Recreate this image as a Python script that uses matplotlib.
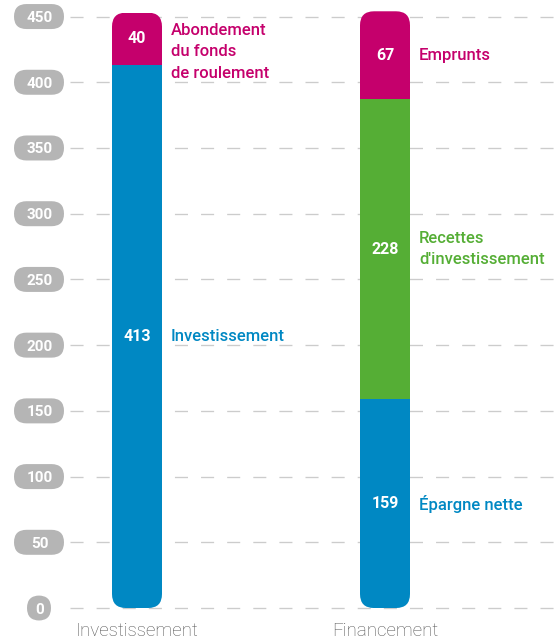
import numpy as np
import matplotlib.pyplot as plt
from matplotlib.patches import FancyBboxPatch
from matplotlib.transforms import IdentityTransform

plt.rcParams['font.family'] = ['Roboto', 'DejaVu Sans']
plt.rcParams['lines.scale_dashes'] = False

BLEU = "#0088C3"
MAGENTA = "#C5006C"
VERT = "#55AE35"

categories = ["Investissement", "Financement"]

# piles, du bas vers le haut
investissement_valeurs = [413, 40]
investissement_libelles = ["Investissement", "Abondement\ndu fonds\nde roulement"]
investissement_couleurs = [BLEU, MAGENTA]
investissement_va = ["center", "top"]

financement_valeurs = [159, 228, 67]
financement_libelles = ["Épargne nette", "Recettes\nd'investissement", "Emprunts"]
financement_couleurs = [BLEU, VERT, MAGENTA]
financement_va = ["center", "center", "center"]

graduations = [0, 50, 100, 150, 200, 250, 300, 350, 400, 450]
graduations_txt = ["0", "50", "100", "150", "200", "250", "300", "350", "400", "450"]

fig = plt.figure(figsize=(5.58, 6.44), dpi=100)
ax = fig.add_axes([70 / 558, (644 - 614.6) / 644, 488 / 558, 611.2 / 644])
ax.set_xlim(-67 / 248, 421 / 248)
ax.set_ylim(-5, 460)
for s in ax.spines.values():
    s.set_visible(False)

ax.set_axisbelow(True)
ax.grid(axis="y", color="#cccccc", linestyle=(0, (9.4, 9.4)), linewidth=0.95)
ax.grid(axis="x", visible=False)

# axe y : étiquettes dans des pastilles grises
ax.set_yticks(graduations, graduations_txt)
ax.tick_params(axis="y", length=0, pad=22, labelcolor="white", labelsize=11)
for t in ax.get_yticklabels():
    t.set_ha("center")
    t.set_fontweight("bold")

ax.set_xticks([0, 1], categories)
ax.tick_params(axis="x", length=0, pad=5, labelcolor="#555555", labelsize=13.5)
for t in ax.get_xticklabels():
    t.set_fontweight("light")

p0 = ax.transData.transform((0, 0))
p1 = ax.transData.transform((1, 1))
aspect = (p1[0] - p0[0]) / (p1[1] - p0[1])

for v, lab in zip(graduations, graduations_txt):
    yd = ax.transData.transform((0, v))[1]
    w = 24 if len(lab) == 1 else 50
    h = 25
    pastille = FancyBboxPatch((39 - w / 2, yd - h / 2), w, h,
                              boxstyle=f"round,pad=0,rounding_size={h / 2}",
                              transform=IdentityTransform(), fc="#b5b5b5", ec="none",
                              clip_on=False, zorder=0.2)
    ax.add_patch(pastille)

largeur = 50 / 248
rayon = 14 / 248

piles = [
    (investissement_valeurs, investissement_couleurs, investissement_libelles, investissement_va),
    (financement_valeurs, financement_couleurs, financement_libelles, financement_va),
]

for xi, (valeurs, couleurs, libelles, vas) in enumerate(piles):
    bas = np.concatenate([[0], np.cumsum(valeurs)[:-1]])
    total = sum(valeurs)
    contour = FancyBboxPatch((xi - largeur / 2, 0), largeur, total,
                             boxstyle=f"round,pad=0,rounding_size={rayon}",
                             mutation_aspect=aspect, transform=ax.transData)
    barres = ax.bar(xi, valeurs, width=largeur, bottom=bas, color=couleurs, zorder=2)
    for b in barres:
        b.set_clip_path(contour)

    for v, b0, c, lab, va in zip(valeurs, bas, couleurs, libelles, vas):
        ax.text(xi, b0 + v / 2, str(v), color="white", fontsize=11.5, fontweight="bold",
                ha="center", va="center", zorder=3)
        if va == "top":
            ax.annotate(lab, (xi + largeur / 2, b0 + v), xytext=(9, -10),
                        textcoords="offset pixels", color=c, fontsize=12,
                        fontweight="medium", ha="left", va="top", linespacing=1.55)
        else:
            ax.annotate(lab, (xi + largeur / 2, b0 + v / 2), xytext=(9, 0),
                        textcoords="offset pixels", color=c, fontsize=12,
                        fontweight="medium", ha="left", va="center", linespacing=1.55)

fig.savefig("out.png", dpi=100)
